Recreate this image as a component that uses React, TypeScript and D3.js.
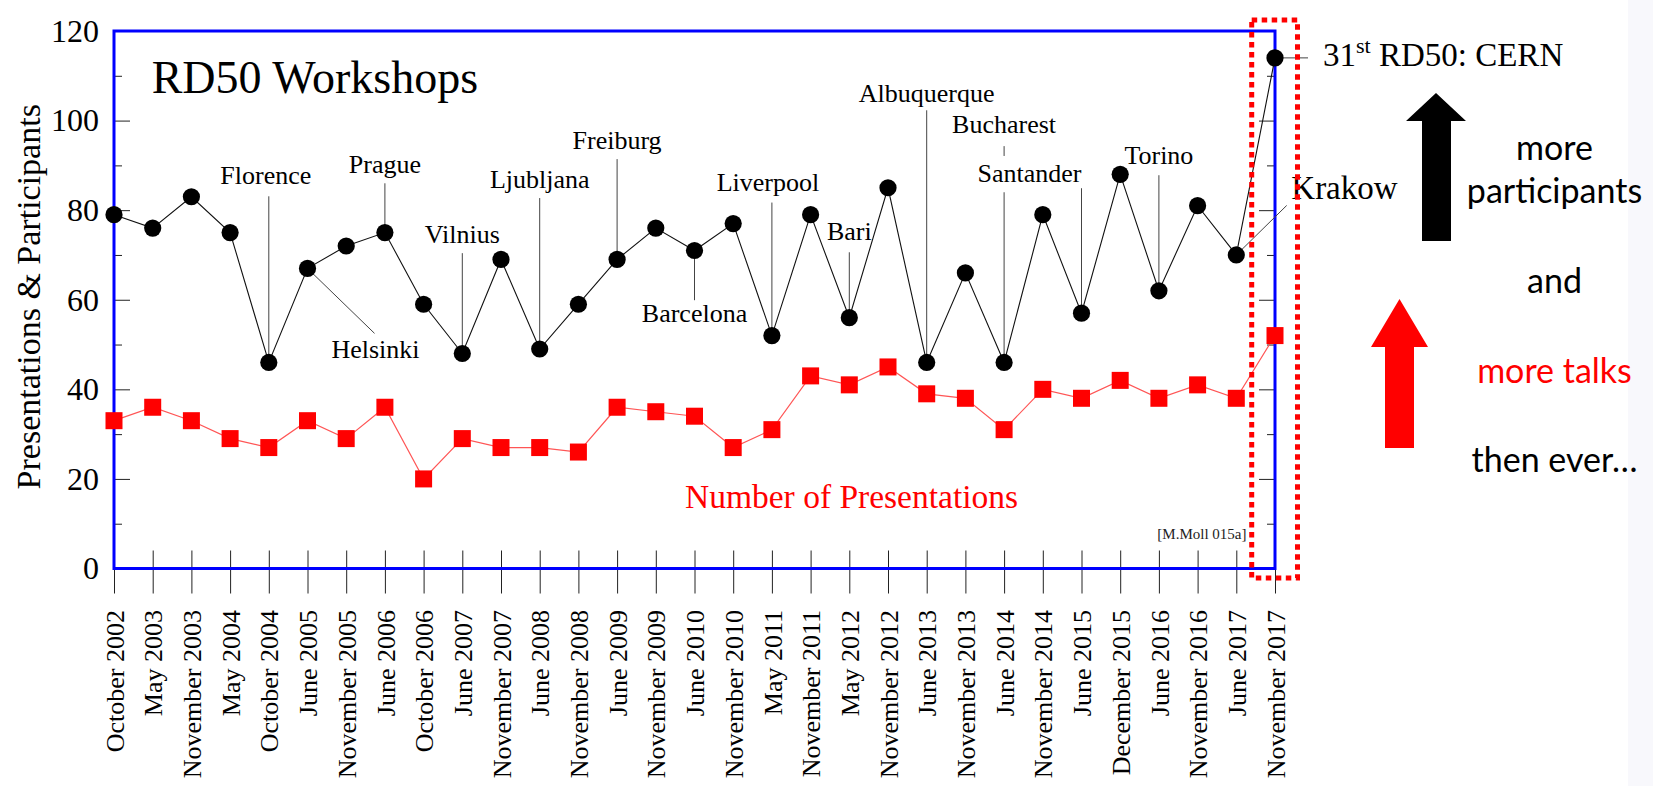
import { useEffect, useRef } from "react";
import * as d3 from "d3";

const WORKSHOPS = [
  "October 2002", "May 2003", "November 2003", "May 2004", "October 2004",
  "June 2005", "November 2005", "June 2006", "October 2006", "June 2007",
  "November 2007", "June 2008", "November 2008", "June 2009", "November 2009",
  "June 2010", "November 2010", "May 2011", "November 2011", "May 2012",
  "November 2012", "June 2013", "November 2013", "June 2014", "November 2014",
  "June 2015", "December 2015", "June 2016", "November 2016", "June 2017",
  "November 2017",
];
const PARTICIPANTS = [79, 76, 83, 75, 46, 67, 72, 75, 59, 48, 69, 49, 59, 69, 76, 71, 77, 52, 79, 56, 85, 46, 66, 46, 79, 57, 88, 62, 81, 70, 114];
const PRESENTATIONS = [33, 36, 33, 29, 27, 33, 29, 36, 20, 29, 27, 27, 26, 36, 35, 34, 27, 31, 43, 41, 45, 39, 38, 31, 40, 38, 42, 38, 41, 38, 52];
const Y_TICKS = [0, 20, 40, 60, 80, 100, 120];
const Y_MINOR = [10, 30, 50, 70, 90, 110];

const CITIES = [
  { name: "Florence", at: "October 2004" },
  { name: "Helsinki", at: "June 2005" },
  { name: "Prague", at: "June 2006" },
  { name: "Vilnius", at: "June 2007" },
  { name: "Ljubljana", at: "June 2008" },
  { name: "Freiburg", at: "June 2009" },
  { name: "Barcelona", at: "June 2010" },
  { name: "Liverpool", at: "May 2011" },
  { name: "Bari", at: "May 2012" },
  { name: "Albuquerque", at: "June 2013" },
  { name: "Bucharest", at: "June 2014" },
  { name: "Santander", at: "June 2015" },
  { name: "Torino", at: "June 2016" },
  { name: "Krakow", at: "June 2017" },
];
const SIDE_NOTES = [
  { text: "more", color: "#000" },
  { text: "participants", color: "#000" },
  { text: "and", color: "#000" },
  { text: "more talks", color: "#ff0000" },
  { text: "then ever…", color: "#000" },
];

// label placement, in value units (text baseline / leader end) + pixel nudges
type Lay = { text: number; line?: number; dx?: number; anchor?: string; size?: number; tip?: [number, number]; gap?: [number, number] };
const CITY_LAYOUT: Record<string, Lay> = {
  Florence: { text: 85.8, line: 83.1, dx: -3 },
  Helsinki: { text: 47.1, dx: 68, tip: [67, 52.5] },
  Prague: { text: 88.3, line: 86.0 },
  Vilnius: { text: 72.7, line: 70.4 },
  Ljubljana: { text: 84.9, line: 82.7 },
  Freiburg: { text: 93.6, line: 91.4 },
  Barcelona: { text: 55.0, line: 59.9 },
  Liverpool: { text: 84.3, line: 81.7, dx: -4 },
  Bari: { text: 73.3, line: 70.6 },
  Albuquerque: { text: 104.2, line: 102.3 },
  Bucharest: { text: 97.2, line: 94.3, gap: [92.1, 84.0] },
  Santander: { text: 86.3, line: 84.9, anchor: "end" },
  Torino: { text: 90.3, line: 87.8 },
  Krakow: { text: 82.5, dx: 55, anchor: "start", size: 33, tip: [50.4, 81.05] },
};
const NOTE_BASELINES = [160, 202.7, 293.3, 382.7, 471.7];

export default function App() {
  const ref = useRef<SVGSVGElement>(null);

  useEffect(() => {
    if (!ref.current) return;
    const W = 1653, H = 786;
    const m = { left: 114, right: 1275, top: 31, bottom: 568.5 };
    const serif = "'Liberation Serif', 'Times New Roman', serif";
    const sans = "Lato, 'Open Sans', sans-serif";

    const svg = d3.select(ref.current);
    svg.selectAll("*").remove();
    svg.attr("width", W).attr("height", H);
    svg.append("rect").attr("width", W).attr("height", H).attr("fill", "#fff");
    svg.append("rect").attr("x", 1628).attr("width", W - 1628).attr("height", H).attr("fill", "#f8f8fc");

    const x = d3.scalePoint<string>().domain(WORKSHOPS).range([m.left, m.right]);
    const y = d3.scaleLinear().domain([0, 120]).range([m.bottom, m.top]);

    // y ticks, both sides, inward
    const ticks = (gen: d3.Axis<d3.NumberValue>, at: number, labels: boolean) => {
      const g = svg.append("g").attr("transform", `translate(${at},0)`).call(gen);
      g.select(".domain").remove();
      g.selectAll("line").attr("stroke", "#222");
      if (labels) g.selectAll("text").attr("font-family", serif).attr("font-size", 32).attr("fill", "#000");
      else g.selectAll("text").remove();
    };
    ticks(d3.axisLeft(y).tickValues(Y_TICKS).tickSize(-16).tickPadding(15), m.left, true);
    ticks(d3.axisLeft(y).tickValues(Y_MINOR).tickSize(-8), m.left, false);
    ticks(d3.axisRight(y).tickValues(Y_TICKS).tickSize(-16), m.right, false);
    ticks(d3.axisRight(y).tickValues(Y_MINOR).tickSize(-8), m.right, false);

    // x axis
    svg.append("g")
      .attr("transform", `translate(0,${m.bottom})`)
      .call(d3.axisBottom(x).tickSize(25).tickPadding(0))
      .call(g => g.select(".domain").remove())
      .call(g => g.selectAll("line").attr("y1", -18).attr("stroke", "#222"))
      .call(g => g.selectAll("text")
        .attr("transform", "rotate(-90)")
        .attr("text-anchor", "end")
        .attr("x", -41.5).attr("y", 0).attr("dy", "0.35em")
        .attr("font-family", serif).attr("font-size", 26).attr("fill", "#000"));

    // frame
    svg.append("rect")
      .attr("x", m.left).attr("y", m.top)
      .attr("width", m.right - m.left).attr("height", m.bottom - m.top)
      .attr("fill", "none").attr("stroke", "#0000ff").attr("stroke-width", 3);

    const line = d3.line<number>().x((_, i) => x(WORKSHOPS[i])!).y(d => y(d));
    svg.append("path").attr("d", line(PRESENTATIONS)).attr("fill", "none").attr("stroke", "#ff5555").attr("stroke-width", 1.2);
    svg.append("path").attr("d", line(PARTICIPANTS)).attr("fill", "none").attr("stroke", "#111").attr("stroke-width", 1.1);

    // city leaders + labels
    const leaders = svg.append("g").attr("stroke", "#444").attr("stroke-width", 1);
    const labels = svg.append("g").attr("font-family", serif).attr("font-size", 26).attr("fill", "#000");
    CITIES.forEach(c => {
      const L = CITY_LAYOUT[c.name];
      const i = WORKSHOPS.indexOf(c.at);
      const cx = x(c.at)!;
      const v = PARTICIPANTS[i];
      if (L.tip) {
        leaders.append("line").attr("x1", cx).attr("y1", y(v)).attr("x2", cx + L.tip[0]).attr("y2", y(L.tip[1]));
      } else if (L.gap) {
        leaders.append("line").attr("x1", cx).attr("x2", cx).attr("y1", y(L.line!)).attr("y2", y(L.gap[0]));
        leaders.append("line").attr("x1", cx).attr("x2", cx).attr("y1", y(L.gap[1])).attr("y2", y(v));
      } else {
        leaders.append("line").attr("x1", cx).attr("x2", cx).attr("y1", y(L.line!)).attr("y2", y(v));
      }
      labels.append("text")
        .attr("x", cx + (L.dx ?? 0)).attr("y", y(L.text))
        .attr("text-anchor", L.anchor ?? "middle")
        .attr("font-size", L.size ?? 26)
        .text(c.name);
    });

    // CERN callout for the last workshop
    const lastX = x(WORKSHOPS[WORKSHOPS.length - 1])!;
    const lastV = PARTICIPANTS[PARTICIPANTS.length - 1];
    leaders.append("line").attr("x1", lastX).attr("x2", lastX + 33).attr("y1", y(lastV)).attr("y2", y(lastV));
    const cern = svg.append("text").attr("x", lastX + 48).attr("y", y(112.2))
      .attr("font-family", serif).attr("font-size", 33).attr("fill", "#000");
    cern.append("tspan").text("31");
    cern.append("tspan").attr("font-size", 22).attr("dy", -13).text("st");
    cern.append("tspan").attr("dy", 13).text(" RD50: CERN");

    // markers
    svg.append("g").selectAll("rect").data(PRESENTATIONS).join("rect")
      .attr("x", (_, i) => x(WORKSHOPS[i])! - 8.5).attr("y", d => y(d) - 8.5)
      .attr("width", 17).attr("height", 17).attr("fill", "#ff0000");
    svg.append("g").selectAll("circle").data(PARTICIPANTS).join("circle")
      .attr("cx", (_, i) => x(WORKSHOPS[i])!).attr("cy", d => y(d))
      .attr("r", 8.6).attr("fill", "#000");

    // texts
    svg.append("text").attr("x", 151.7).attr("y", 93.3)
      .attr("font-family", serif).attr("font-size", 46).attr("fill", "#000").text("RD50 Workshops");
    svg.append("text").attr("x", 685).attr("y", 508.3)
      .attr("font-family", serif).attr("font-size", 33.5).attr("fill", "#ff0000").text("Number of Presentations");
    svg.append("text").attr("x", 1157.3).attr("y", 539.3)
      .attr("font-family", serif).attr("font-size", 15).attr("fill", "#222").text("[M.Moll 015a]");
    svg.append("text").attr("transform", `translate(40,${(m.top + m.bottom) / 2 - 3}) rotate(-90)`)
      .attr("text-anchor", "middle")
      .attr("font-family", serif).attr("font-size", 34).attr("fill", "#000").text("Presentations & Participants");

    // highlight box around the latest workshop
    svg.append("rect")
      .attr("x", lastX - 23.3).attr("y", 20).attr("width", 45.8).attr("height", 558)
      .attr("fill", "none").attr("stroke", "#ff0000").attr("stroke-width", 5)
      .attr("stroke-dasharray", "5.5 4.5");

    // arrows
    svg.append("path").attr("fill", "#000")
      .attr("d", "M1436,93 L1466,121 L1451,121 L1451,241 L1422,241 L1422,121 L1406,121 Z");
    svg.append("path").attr("fill", "#ff0000")
      .attr("d", "M1399.5,299 L1428,347 L1414,347 L1414,448 L1385,448 L1385,347 L1371,347 Z");

    svg.append("g").attr("font-family", sans).attr("font-size", 34).attr("text-anchor", "middle")
      .selectAll("text").data(SIDE_NOTES).join("text")
      .attr("x", 1554.5).attr("y", (_, i) => NOTE_BASELINES[i])
      .attr("fill", d => d.color).text(d => d.text);
  }, []);

  return <svg ref={ref} style={{ position: "absolute", left: 0, top: 0, display: "block" }} />;
}
